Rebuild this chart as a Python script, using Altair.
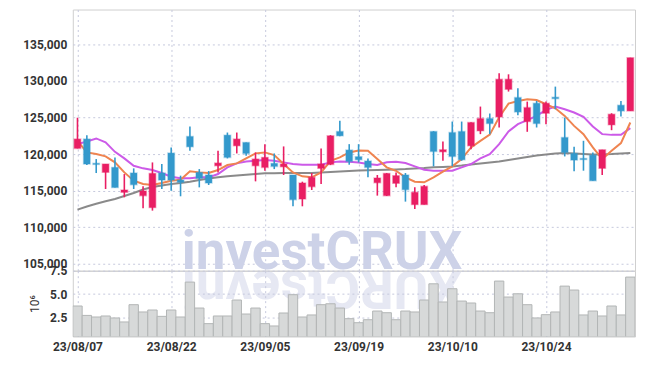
import altair as alt
import pandas as pd

# ---- data ----
tick_idx = [0, 10, 20, 30, 40, 50]
tick_labels = ["23/08/07", "23/08/22", "23/09/05", "23/09/19", "23/10/10", "23/10/24"]

open_ = [120780, 122050, 118730, 117500, 118180, 114770, 117410, 114320, 112680, 117410,
         120140, 116450, 122410, 117500, 117140, 118410, 122590, 121140, 121590, 118410,
         118180, 118730, 118270, 117140, 113860, 115550, 118050, 118590, 123090, 120550,
         119640, 119050, 116090, 114320, 116000, 117140, 113090, 113090, 123090, 120320,
         122950, 123090, 121140, 123180, 124860, 125090, 128860, 127730, 124450, 126950,
         125590, 127770, 122270, 120090, 119410, 119860, 118050, 124000, 126680, 125910]
high = [124980, 122590, 119320, 118640, 119550, 117270, 118050, 115590, 118860, 118640,
        120910, 117050, 123770, 117950, 117680, 120450, 122950, 122950, 121600, 120230,
        121360, 120090, 121050, 117140, 116230, 117410, 120770, 122590, 124550, 121360,
        121360, 119410, 117140, 117410, 117500, 117410, 115450, 115770, 123140, 121730,
        124450, 124450, 124360, 126500, 125550, 131050, 130910, 129000, 127180, 127270,
        127180, 129230, 125000, 121000, 121820, 120230, 120590, 125590, 127270, 133180]
low = [120780, 118500, 117410, 115230, 115430, 114090, 115230, 112590, 112270, 115230,
       115000, 114230, 120450, 115450, 115770, 117500, 119410, 120090, 119770, 116270,
       117730, 117950, 117140, 112860, 112860, 115090, 115910, 118500, 122450, 118550,
       118860, 116820, 114320, 114270, 115450, 113500, 112500, 113090, 118320, 119090,
       118320, 119090, 120680, 122730, 122730, 123640, 128550, 125320, 123050, 123640,
       124090, 126140, 119680, 117640, 117730, 116360, 117140, 123270, 125140, 125910]
close = [122050, 118640, 118590, 118640, 115430, 115090, 115820, 114950, 117360, 116450,
         116450, 116140, 121000, 116680, 116050, 118770, 119550, 122050, 120090, 119320,
         119550, 118320, 118640, 113770, 116050, 116820, 118640, 122500, 122500, 119000,
         119230, 118180, 116730, 117360, 117050, 115140, 114770, 115590, 120360, 120590,
         119680, 119230, 124320, 124860, 124180, 130230, 130230, 125770, 126360, 124180,
         126950, 127590, 120230, 119180, 119270, 116360, 120590, 125450, 125910, 133180]

ma5 = [121800, 120230, 120000, 119690, 118870, 117500, 116360, 115910, 115770, 116050,
       116360, 116500, 117640, 117500, 117410, 117820, 118500, 118730, 119410, 120100,
       120230, 119860, 118640, 117500, 116960, 116820, 117500, 119090, 119550, 120230,
       120480, 120450, 119320, 118190, 117720, 116820, 116220, 116140, 116820, 117590,
       118320, 119320, 120910, 121810, 122660, 125050, 126910, 127270, 127500, 127400,
       126820, 126270, 125220, 123860, 122730, 120910, 119320, 120450, 121500, 124320]
ma10 = [121360, 121730, 122140, 121600, 120310, 119410, 118400, 118050, 117820, 117410,
        116900, 116690, 116690, 116820, 116820, 117270, 118190, 118730, 119000, 119090,
        119180, 119090, 118870, 118640, 118540, 118540, 118540, 118870, 119000, 118950,
        118840, 118640, 118500, 118870, 118950, 118770, 118320, 117860, 117720, 117720,
        117720, 118190, 118640, 119410, 120000, 121360, 123100, 124090, 124640, 125220,
        126040, 126500, 126140, 125690, 125090, 123780, 122730, 122630, 122630, 123550]
ma60 = [112400, 112840, 113210, 113550, 113860, 114270, 114680, 115160, 115500, 115700,
        115910, 116050, 116220, 116450, 116660, 116820, 116960, 117070, 117180, 117270,
        117370, 117380, 117400, 117400, 117410, 117410, 117480, 117550, 117610, 117680,
        117750, 117790, 117820, 117860, 117910, 117950, 118020, 118090, 118190, 118250,
        118320, 118430, 118570, 118700, 118840, 118980, 119180, 119390, 119590, 119800,
        119960, 120070, 120140, 120070, 120000, 119930, 119960, 120000, 120070, 120140]

volume_m = [3.72, 2.71, 2.54, 2.65, 2.44, 2.01, 3.86, 3.08, 3.29, 2.61,
            3.29, 2.54, 6.28, 3.50, 1.83, 2.65, 2.65, 4.36, 2.86, 3.50,
            1.83, 1.58, 2.97, 4.93, 2.54, 2.76, 3.86, 3.96, 3.50, 2.36,
            1.93, 2.25, 3.18, 3.00, 2.25, 3.18, 3.08, 4.36, 6.10, 4.15,
            5.57, 4.25, 4.04, 3.18, 3.00, 6.39, 4.68, 5.03, 3.86, 2.44,
            2.79, 3.08, 5.85, 5.43, 2.76, 3.18, 2.65, 3.72, 2.76, 6.82]

price_ticks = [105000, 110000, 115000, 120000, 125000, 130000, 135000]
vol_ticks = [2.5, 5.0, 7.5]

# ---- styles ----
RED = "#e91e63"
BLUE = "#3399cc"
GRID = "#c6c9dd"
FONT = "Roboto"

n = len(close)
df = pd.DataFrame({
    "i": list(range(n)),
    "open": open_, "high": high, "low": low, "close": close,
    "ma5": ma5, "ma10": ma10, "ma60": ma60, "vol": volume_m,
})
df["dir"] = ["up" if c >= o else "down" for o, c in zip(open_, close)]
df["b0"] = df["i"] - 0.35
df["b1"] = df["i"] + 0.35
df["v0"] = df["i"] - 0.5
df["v1"] = df["i"] + 0.5

label_expr = "[" + ",".join("'%s'" % s for s in tick_labels) + "][round(datum.value/10)]"
x_scale = alt.Scale(domain=[-0.5, n - 0.5], nice=False, zero=False)
x_axis_p = alt.Axis(values=tick_idx, labels=False, ticks=False, domain=False, grid=True, title=None)
y_scale = alt.Scale(domain=[104050, 139770], nice=False, zero=False)
y_axis_p = alt.Axis(values=price_ticks, format=",.0f", ticks=False, domain=False,
                    grid=True, title=None, labelPadding=6)


def X(f):
    return alt.X(f, scale=x_scale, axis=x_axis_p)


def Y(f):
    return alt.Y(f, scale=y_scale, axis=y_axis_p)


dir_scale = alt.Scale(domain=["up", "down"], range=[RED, BLUE])
color = alt.Color("dir:N", scale=dir_scale, legend=None)

base = alt.Chart(df)

wm = alt.Chart(pd.DataFrame({"t": ["investCRUX"], "r": ["XURCtsevni"]}))
watermark = wm.mark_text(font="Roboto", fontWeight="bold", fontSize=53, color="#cdd2e8",
                         baseline="alphabetic", align="center").encode(
    x=alt.value(250), y=alt.value(260), text="t:N")
reflection = wm.mark_text(font="Roboto", fontWeight="bold", fontSize=53, color="#e2e4f1",
                          baseline="alphabetic", align="center", angle=180, opacity=0.85).encode(
    x=alt.value(250), y=alt.value(262), text="r:N")

line60 = base.mark_line(color="#7d7d7d", strokeWidth=2, opacity=0.9).encode(x=X("i:Q"), y=Y("ma60:Q"))
line10 = base.mark_line(color="#cc5ae8", strokeWidth=2).encode(x=X("i:Q"), y=Y("ma10:Q"))
line5 = base.mark_line(color="#ef8450", strokeWidth=2).encode(x=X("i:Q"), y=Y("ma5:Q"))

wicks = base.mark_rule(strokeWidth=1.6).encode(x=X("i:Q"), y=Y("low:Q"), y2="high:Q", color=color)
bodies = base.mark_bar(strokeWidth=1.5, strokeOpacity=0.35).encode(
    x=X("b0:Q"), x2="b1:Q", y=Y("open:Q"), y2="close:Q", color=color,
    stroke=alt.Stroke("dir:N", scale=dir_scale, legend=None))

price = alt.layer(watermark, line60, line10, line5, wicks, bodies,
                  reflection).properties(width=564, height=262)

volume = base.mark_bar(fill="#d7d9d9", stroke="#b3b6b6", strokeWidth=1, clip=True).encode(
    x=alt.X("v0:Q", scale=x_scale,
            axis=alt.Axis(values=tick_idx, labelExpr=label_expr, ticks=False, domain=False,
                          grid=True, title=None, labelPadding=5, labelFlush=False)),
    x2="v1:Q",
    y=alt.Y("vol:Q", scale=alt.Scale(domain=[0.45, 7.5], nice=False, zero=False),
            axis=alt.Axis(values=vol_ticks, format=".1f", ticks=False, domain=False, grid=True,
                          title="10⁶", titleFont=FONT, titleFontSize=12, titleFontWeight="normal",
                          titleColor="#333333", titlePadding=8, labelPadding=6)),
    y2=alt.datum(0.45),
).properties(width=564, height=66)

chart = alt.vconcat(price, volume, spacing=0, bounds="flush").properties(
    padding={"left": 14, "top": 0, "right": 1, "bottom": 2}
).configure_view(stroke="#cfcfcf").configure_axis(
    labelFont=FONT, labelFontSize=12, labelFontWeight="bold", labelColor="#333333",
    gridColor=GRID, gridDash=[2, 3], gridWidth=1,
)

chart.save("out.html", embed_options={"renderer": "svg", "actions": False})
